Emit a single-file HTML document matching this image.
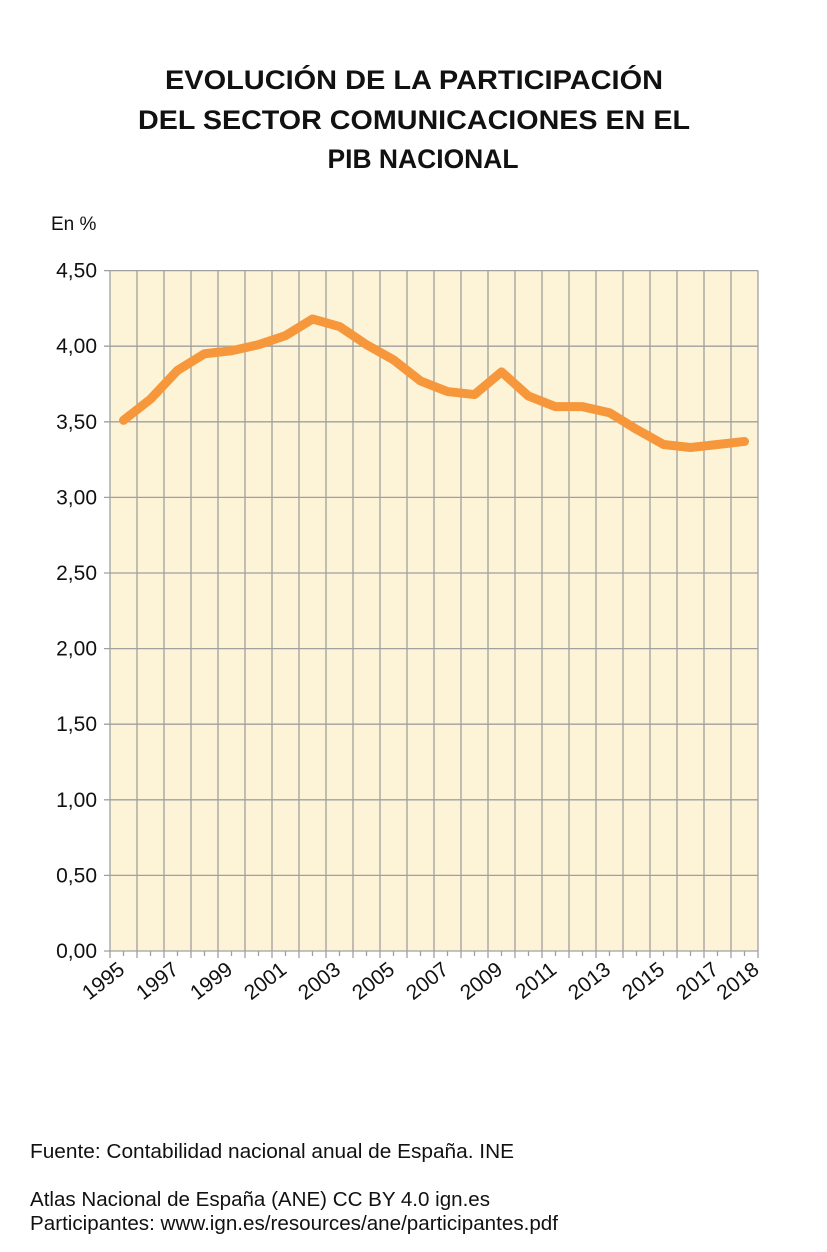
<!DOCTYPE html>
<html><head><meta charset="utf-8"><style>body{margin:0;background:#fff}svg{display:block}</style></head>
<body>
<svg width="827" height="1252" xmlns="http://www.w3.org/2000/svg" font-family="Liberation Sans, sans-serif">
<rect width="827" height="1252" fill="#fff"/>
<g font-weight="bold" font-size="27" fill="#111" text-anchor="middle">
<text x="414" y="89" textLength="498" lengthAdjust="spacingAndGlyphs">EVOLUCIÓN DE LA PARTICIPACIÓN</text>
<text x="414" y="129" textLength="552" lengthAdjust="spacingAndGlyphs">DEL SECTOR COMUNICACIONES EN EL</text>
<text x="423" y="168" textLength="191" lengthAdjust="spacingAndGlyphs">PIB NACIONAL</text>
</g>
<text x="51" y="230" font-size="19" fill="#111">En %</text>
<rect x="110" y="270.5" width="648" height="681" fill="#fdf3d6"/>
<g stroke="#a0a0a0" stroke-width="1.3" id="grid"></g>
<g font-size="21" fill="#111" text-anchor="end" id="ylab"></g>
<g font-size="21" fill="#111" id="xlab"></g>
<polyline id="line" fill="none" stroke="#f7973b" stroke-width="9" stroke-linejoin="round" stroke-linecap="round"/>
<g font-size="20" fill="#111">
<text x="30" y="1158" textLength="484" lengthAdjust="spacingAndGlyphs">Fuente: Contabilidad nacional anual de España. INE</text>
<text x="30" y="1206" textLength="460" lengthAdjust="spacingAndGlyphs">Atlas Nacional de España (ANE) CC BY 4.0 ign.es</text>
<text x="30" y="1230" textLength="528" lengthAdjust="spacingAndGlyphs">Participantes: www.ign.es/resources/ane/participantes.pdf</text>
</g>
<script>
var ns="http://www.w3.org/2000/svg";
function el(p,t,a,txt){var e=document.createElementNS(ns,t);for(var k in a)e.setAttribute(k,a[k]);if(txt)e.textContent=txt;p.appendChild(e);return e;}
var g=document.getElementById('grid'),yl=document.getElementById('ylab'),xl=document.getElementById('xlab');
var x0=110,x1=758,y0=951,step=(x1-x0)/24;
for(var i=0;i<=24;i++){var x=x0+i*step;el(g,'line',{x1:x,x2:x,y1:270.5,y2:958});}
for(var i=0;i<24;i++){var x=x0+(i+0.5)*step;el(g,'line',{x1:x,x2:x,y1:951,y2:956});}
for(var j=0;j<=9;j++){var y=y0-j*75.6;el(g,'line',{x1:104,x2:x1,y1:y,y2:y});
el(yl,'text',{x:97,y:y+7},(j*0.5).toFixed(2).replace('.',','));}
var v=[3.51,3.65,3.84,3.95,3.97,4.01,4.07,4.18,4.13,4.01,3.91,3.77,3.70,3.68,3.83,3.67,3.60,3.60,3.56,3.45,3.35,3.33,3.35,3.37];
var pts=v.map(function(d,i){return (x0+(i+0.5)*step)+","+(y0-d*151.2);}).join(" ");
document.getElementById('line').setAttribute('points',pts);
var yrs=[0,2,4,6,8,10,12,14,16,18,20,22,23];
yrs.forEach(function(i){var x=x0+i*step+(i==23?step*0.5:0)+16,y=972;
el(xl,'text',{x:x,y:y,'text-anchor':'end',transform:'rotate(-38 '+x+' '+y+')'},String(1995+i));});
</script>
</svg>
</body></html>
